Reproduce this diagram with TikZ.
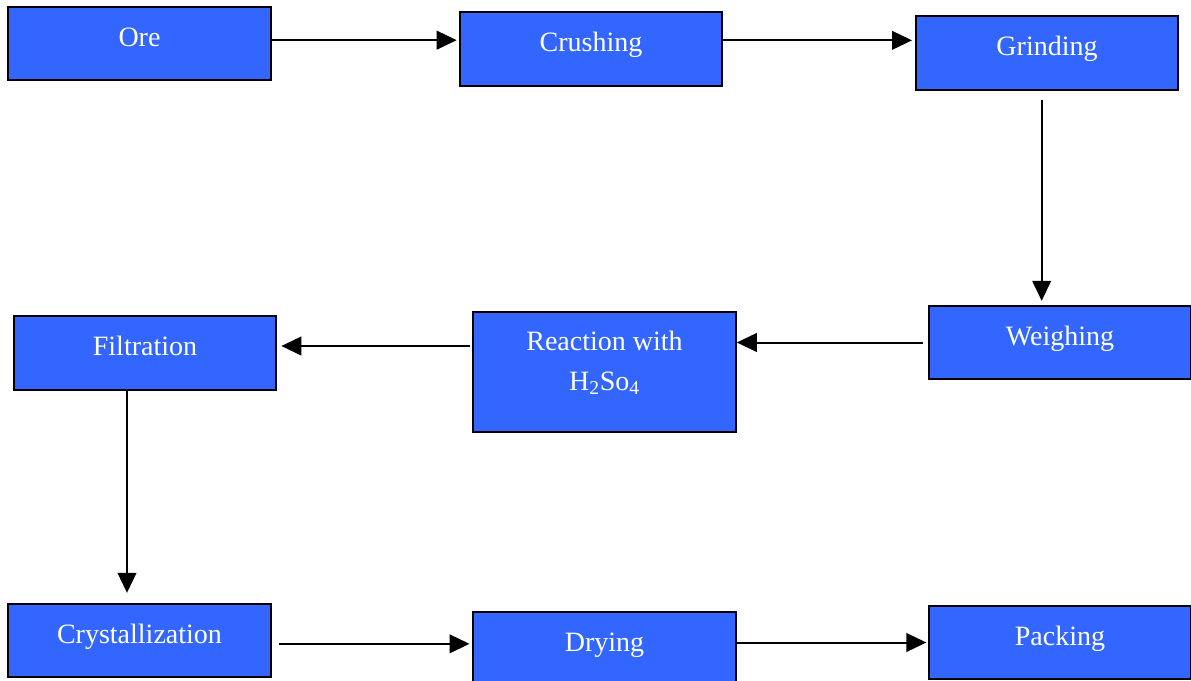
\documentclass[tikz,border=0pt]{standalone}
\usepackage{fontspec}
\setmainfont{Liberation Serif}
\usetikzlibrary{arrows.meta, positioning, calc}
\definecolor{stepblue}{HTML}{3366FF}
\begin{document}
\begin{tikzpicture}[
      x=0.75pt, y=-0.75pt,
      box/.style={rectangle, draw, line width=1.5pt, fill=stepblue, text=white,
        minimum width=197pt, minimum height=55pt, inner sep=0pt,
        font=\fontsize{21}{25}\selectfont, text height=14pt, text depth=10pt},
      >={Triangle[length=15pt, width=14pt]},
      flow/.style={->, line width=1.5pt}
    ]
    \useasboundingbox (0,0) rectangle (1191,681);

    % Top row
    \node[box] (ore) at (139.5,43.5) {Ore};
    \node[box] (crushing) at (591,49) {Crushing};
    \node[box] (grinding) at (1047,53) {Grinding};

    % Middle row
    \node[box] (weighing) at (1060,342.5) {Weighing};
    \node[box, minimum height=90pt, align=center, font=\fontsize{21}{30}\selectfont,
      text height=58pt, text depth=30pt] (reaction) at (604.5,372) {Reaction with\\H\textsubscript{2}So\textsubscript{4}};
    \node[box] (filtration) at (145,353) {Filtration};

    % Bottom row
    \node[box] (crystallization) at (139.5,640.5) {Crystallization};
    \node[box] (drying) at (604.5,648.5) {Drying};
    \node[box] (packing) at (1060,642.5) {Packing};

    % Connections
    \draw[flow] ([yshift=2.5pt]ore.east) -- ([xshift=-1.5pt, yshift=2.5pt]ore.east -| crushing.west);
    \draw[flow] ([yshift=6.5pt]crushing.east) -- ([yshift=6.5pt, xshift=-2pt]crushing.east -| grinding.west);
    \draw[flow] ([xshift=-4pt, yshift=-7pt]grinding.south) -- ([xshift=-4pt, yshift=3pt]grinding.south |- weighing.north);
    \draw[flow] ([xshift=-3.5pt]weighing.west) -- (weighing.west -| reaction.east);
    \draw[flow] ([xshift=-2pt, yshift=19.5pt]reaction.west) -- ([xshift=3pt, yshift=19.5pt]reaction.west -| filtration.east);
    \draw[flow] ([xshift=-13.5pt]filtration.south) -- ([xshift=-13.5pt, yshift=7.5pt]filtration.south |- crystallization.north);
    \draw[flow] ([xshift=5pt, yshift=-2.5pt]crystallization.east) -- ([xshift=-2pt, yshift=-2.5pt]crystallization.east -| drying.west);
    \draw[flow] (packing.west -| drying.east) -- ([xshift=-1pt]packing.west);

\end{tikzpicture}
\end{document}
